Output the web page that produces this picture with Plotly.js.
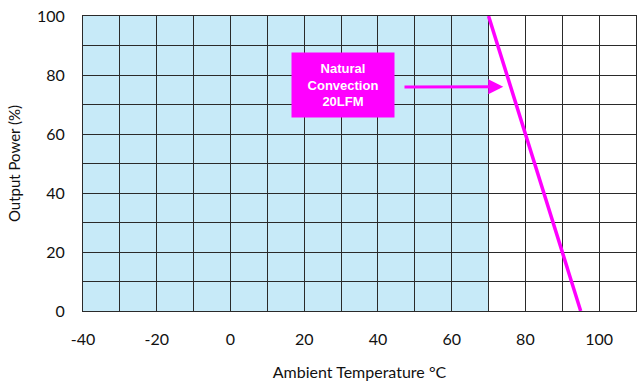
<!DOCTYPE html>
<html><head><meta charset="utf-8">
<script src="https://cdn.plot.ly/plotly-3.0.1.min.js"></script>
<style>html,body{margin:0;padding:0;background:#fff;}#chart{width:639px;height:381px;}</style>
</head><body><div id="chart"></div>
<script>
// Derating curve data
const curveTemp = [70, 95];
const curvePower = [100, 0];
// Shaded (full-power) region
const shadeTemp = [-40, 70];
const shadePower = [0, 100];
// Annotation
const labelText = "Natural<br>Convection<br>20LFM";
const labelPos = [30.5, 76.5];
const arrowTip = [74, 76];
const xTicks = [-40, -20, 0, 20, 40, 60, 80, 100];
const yTicks = [0, 20, 40, 60, 80, 100];

const traces = [{
  x: curveTemp, y: curvePower, type: 'scatter', mode: 'lines',
  line: {color: '#ff00ff', width: 3.5}, hoverinfo: 'skip', cliponaxis: false
}];

const layout = {
  width: 639, height: 381,
  margin: {l: 83, r: 3, t: 16, b: 70},
  paper_bgcolor: '#fff', plot_bgcolor: '#fff',
  showlegend: false,
  font: {family: 'Lato, "Open Sans", sans-serif', color: '#111'},
  xaxis: {
    range: [-40, 110], tickvals: xTicks, ticktext: xTicks.map(String),
    showgrid: true, gridcolor: '#2a2a2a', gridwidth: 1,
    minor: {dtick: 10, showgrid: true, gridcolor: '#2a2a2a', gridwidth: 1},
    zeroline: false, showline: true, linecolor: '#2a2a2a', mirror: true,
    ticks: '', ticklen: 0, tickfont: {size: 16}, fixedrange: true,
    ticklabelstandoff: 14,
    title: {text: 'Ambient Temperature \u00b0C', font: {size: 16}, standoff: 22}
  },
  yaxis: {
    range: [0, 100], tickvals: yTicks, ticktext: yTicks.map(String),
    showgrid: true, gridcolor: '#2a2a2a', gridwidth: 1,
    minor: {dtick: 10, showgrid: true, gridcolor: '#2a2a2a', gridwidth: 1},
    zeroline: false, showline: true, linecolor: '#2a2a2a', mirror: true,
    ticks: '', ticklen: 0, tickfont: {size: 16}, fixedrange: true,
    ticklabelstandoff: 14,
    title: {text: 'Output Power (%)', font: {size: 15}, standoff: 12}
  },
  shapes: [{
    type: 'rect', xref: 'x', yref: 'y', layer: 'below',
    x0: shadeTemp[0], x1: shadeTemp[1], y0: shadePower[0], y1: shadePower[1],
    fillcolor: '#c7eaf8', line: {width: 0}
  }],
  annotations: [{
    x: labelPos[0], y: labelPos[1], xref: 'x', yref: 'y',
    text: '<b>' + labelText + '</b>', showarrow: false,
    font: {family: 'Liberation Sans, Arial, sans-serif', size: 13, color: '#fff'},
    bgcolor: '#ff00ff', width: 98, height: 60, borderpad: 2
  }, {
    x: arrowTip[0], y: arrowTip[1], xref: 'x', yref: 'y',
    ax: 0, ay: 0,
    showarrow: true, arrowhead: 2, arrowsize: 1, arrowwidth: 3, arrowcolor: '#ff00ff',
    text: ''
  }]
};
// arrow tail as a pixel offset from the tip
(function(){
  const pw = 639 - 83 - 3, ph = 381 - 16 - 70;
  const tipPx = 83 + (arrowTip[0] + 40) / 150 * pw;
  const tipPy = 16 + (100 - arrowTip[1]) / 100 * ph;
  layout.annotations[1].ax = 403 - tipPx;
  layout.annotations[1].ay = 87 - tipPy;
})();
Plotly.newPlot('chart', traces, layout, {staticPlot: true, displayModeBar: false});
</script></body></html>
